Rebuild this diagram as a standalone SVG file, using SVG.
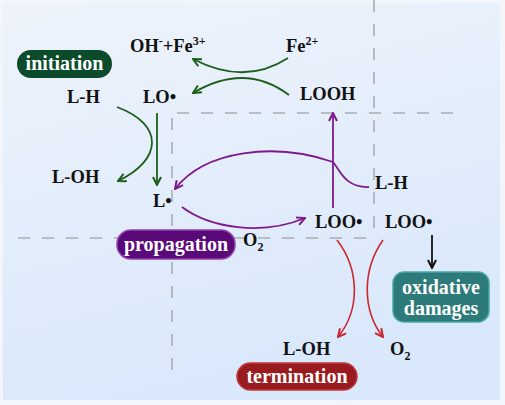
<svg xmlns="http://www.w3.org/2000/svg" width="505" height="405" viewBox="0 0 505 405">
<defs>
<linearGradient id="bg" x1="0" y1="0" x2="0.3" y2="1">
<stop offset="0" stop-color="#eef3fb"/>
<stop offset="1" stop-color="#d9e8fb"/>
</linearGradient>
<marker id="ag" viewBox="0 0 10 10" refX="9" refY="5" markerWidth="10" markerHeight="10" markerUnits="userSpaceOnUse" orient="auto"><path d="M1,1 L9,5 L1,9" fill="none" stroke="#1d5e1d" stroke-width="2"/></marker>
<marker id="ap" viewBox="0 0 10 10" refX="9" refY="5" markerWidth="10" markerHeight="10" markerUnits="userSpaceOnUse" orient="auto"><path d="M1,1 L9,5 L1,9" fill="none" stroke="#7d1a8c" stroke-width="2"/></marker>
<marker id="ar" viewBox="0 0 10 10" refX="9" refY="5" markerWidth="10" markerHeight="10" markerUnits="userSpaceOnUse" orient="auto"><path d="M1,1 L9,5 L1,9" fill="none" stroke="#c9282e" stroke-width="2"/></marker>
<marker id="ak" viewBox="0 0 10 10" refX="9" refY="5" markerWidth="10" markerHeight="10" markerUnits="userSpaceOnUse" orient="auto"><path d="M1,1 L9,5 L1,9" fill="none" stroke="#111" stroke-width="2"/></marker>
</defs>
<style>
text{font-family:"Liberation Serif","DejaVu Serif",serif;font-weight:bold;}
.lb{font-size:18.5px;fill:#111;}
.pt{font-size:20px;fill:#fff;text-anchor:middle;}
.dash{stroke:#a9adb3;stroke-width:1.6;stroke-dasharray:12 12;fill:none;}
.g{stroke:#1d5e1d;stroke-width:1.8;fill:none;marker-end:url(#ag);}
.p{stroke:#7d1a8c;stroke-width:1.8;fill:none;}
.r{stroke:#c9282e;stroke-width:1.6;fill:none;marker-end:url(#ar);}
.k{stroke:#111;stroke-width:1.8;fill:none;marker-end:url(#ak);}
</style>
<rect x="0" y="0" width="505" height="405" fill="#f2f6fc"/>
<rect x="3" y="3" width="497" height="397" fill="url(#bg)"/>

<g id="guides">
<path class="dash" d="M374,0 V238"/>
<path class="dash" d="M18,238 H374"/>
<path class="dash" d="M177,113 H455"/>
<path class="dash" d="M172,118 V376"/>
</g>

<g id="connectors">
<path class="g" d="M288,58 Q245,86 193,59"/>
<path class="g" d="M289,95 Q245,62 193,93"/>
<path class="g" d="M117,107 C165,125 162,160 118,181"/>
<path class="g" d="M157,113 V185"/>
<path class="p" d="M333,208 V113" marker-end="url(#ap)"/>
<path class="p" d="M369,187 C345,188 340,170 333,162 C275,142 205,150 175,189" marker-end="url(#ap)"/>
<path class="p" d="M182,207 C210,228 262,236 305,218" marker-end="url(#ap)"/>
<path class="r" d="M337,240 C360,270 360,310 338,337"/>
<path class="r" d="M383,240 C362,270 362,310 383,337"/>
<path class="k" d="M432,235 V268"/>
</g>

<g id="n-ohfe"><text class="lb" x="130" y="52">OH<tspan font-size="12" dy="-7">-</tspan><tspan dy="7">+Fe</tspan><tspan font-size="12" dy="-7">3+</tspan></text></g>
<g id="n-fe2"><text class="lb" x="286" y="52">Fe<tspan font-size="12" dy="-7">2+</tspan></text></g>
<g id="n-initiation"><rect x="17" y="50" width="95" height="28" rx="14" fill="#0b4a2b"/><text class="pt" x="64.5" y="70">initiation</text></g>
<g id="n-lh1"><text class="lb" x="67" y="103">L-H</text></g>
<g id="n-lo"><text class="lb" x="143" y="103">LO•</text></g>
<g id="n-looh"><text class="lb" x="300" y="100">LOOH</text></g>
<g id="n-loh1"><text class="lb" x="52" y="183">L-OH</text></g>
<g id="n-l"><text class="lb" x="153" y="207">L•</text></g>
<g id="n-lh2"><text class="lb" x="375" y="189">L-H</text></g>
<g id="n-loo1"><text class="lb" x="315" y="228">LOO•</text></g>
<g id="n-loo2"><text class="lb" x="385" y="228">LOO•</text></g>
<g id="n-propagation"><rect x="117" y="230" width="118" height="29" rx="14" fill="#5a0a78" stroke="#9240ad" stroke-width="1.5"/><text class="pt" x="176" y="251">propagation</text></g>
<g id="n-o2a"><text class="lb" x="243" y="246">O<tspan font-size="12" dy="5">2</tspan></text></g>
<g id="n-oxidative"><rect x="393" y="272" width="96" height="50" rx="11" fill="#2c7b7a" stroke="#47a8a3" stroke-width="1.5"/><text class="pt" x="441" y="294">oxidative</text><text class="pt" x="441" y="315">damages</text></g>
<g id="n-loh2"><text class="lb" x="283" y="355">L-OH</text></g>
<g id="n-o2b"><text class="lb" x="390" y="355">O<tspan font-size="12" dy="5">2</tspan></text></g>
<g id="n-termination"><rect x="237" y="363" width="120" height="27" rx="13.5" fill="#991b1f" stroke="#c0393d" stroke-width="1.5"/><text class="pt" x="297" y="383">termination</text></g>
</svg>
